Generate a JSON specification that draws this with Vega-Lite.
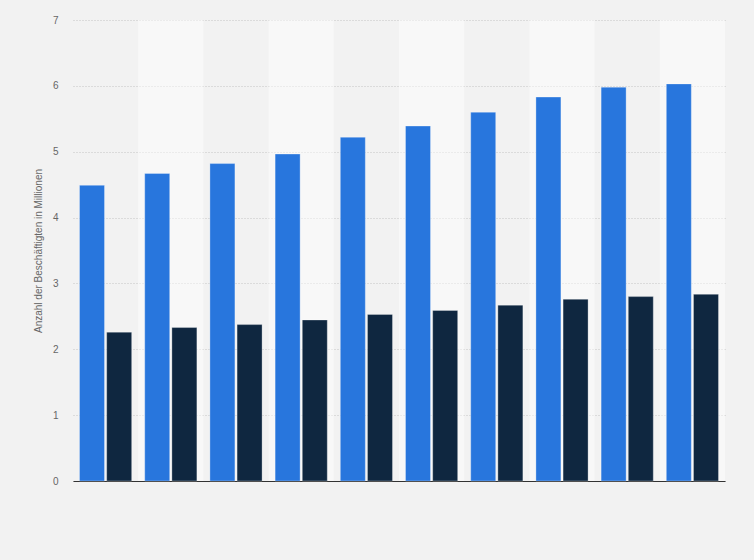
{
  "$schema": "https://vega.github.io/schema/vega-lite/v6.json",
  "width": 652,
  "height": 461,
  "autosize": {"type": "none"},
  "padding": {"left": 73, "top": 20, "right": 29, "bottom": 79},
  "background": "#f2f2f2",
  "config": {
    "view": {"stroke": null},
    "font": "Liberation Sans"
  },
  "data": {
    "values": [
      {"Jahr": "2010", "Reihe": "Reihe 1", "Wert": 4.49},
      {"Jahr": "2011", "Reihe": "Reihe 1", "Wert": 4.67},
      {"Jahr": "2012", "Reihe": "Reihe 1", "Wert": 4.82},
      {"Jahr": "2013", "Reihe": "Reihe 1", "Wert": 4.965},
      {"Jahr": "2014", "Reihe": "Reihe 1", "Wert": 5.22},
      {"Jahr": "2015", "Reihe": "Reihe 1", "Wert": 5.39},
      {"Jahr": "2016", "Reihe": "Reihe 1", "Wert": 5.6},
      {"Jahr": "2017", "Reihe": "Reihe 1", "Wert": 5.83},
      {"Jahr": "2018", "Reihe": "Reihe 1", "Wert": 5.98},
      {"Jahr": "2019", "Reihe": "Reihe 1", "Wert": 6.03},
      {"Jahr": "2010", "Reihe": "Reihe 2", "Wert": 2.26},
      {"Jahr": "2011", "Reihe": "Reihe 2", "Wert": 2.33},
      {"Jahr": "2012", "Reihe": "Reihe 2", "Wert": 2.375},
      {"Jahr": "2013", "Reihe": "Reihe 2", "Wert": 2.445},
      {"Jahr": "2014", "Reihe": "Reihe 2", "Wert": 2.53},
      {"Jahr": "2015", "Reihe": "Reihe 2", "Wert": 2.59},
      {"Jahr": "2016", "Reihe": "Reihe 2", "Wert": 2.67},
      {"Jahr": "2017", "Reihe": "Reihe 2", "Wert": 2.76},
      {"Jahr": "2018", "Reihe": "Reihe 2", "Wert": 2.8},
      {"Jahr": "2019", "Reihe": "Reihe 2", "Wert": 2.835}
    ]
  },
  "layer": [
    {
      "transform": [
        {"filter": "datum.Reihe === 'Reihe 1'"},
        {"window": [{"op": "row_number", "as": "idx"}], "sort": [{"field": "Jahr"}]}
      ],
      "mark": {"type": "rect", "fill": "#ffffff"},
      "encoding": {
        "x": {"field": "Jahr", "type": "ordinal", "scale": {"paddingInner": 0, "paddingOuter": 0}, "axis": null},
        "opacity": {"condition": {"test": "datum.idx % 2 === 0", "value": 0.45}, "value": 0}
      }
    },
    {
      "mark": {"type": "bar", "stroke": "#ffffff", "strokeOpacity": 0.3, "strokeWidth": 1},
      "encoding": {
        "x": {
          "field": "Jahr", "type": "ordinal",
          "scale": {"paddingInner": 0.2, "paddingOuter": 0.1},
          "axis": {"labels": false, "ticks": false, "title": null, "domain": true, "domainColor": "#333333", "domainWidth": 1, "grid": false}
        },
        "xOffset": {"field": "Reihe", "type": "nominal", "scale": {"paddingInner": 0.08, "paddingOuter": 0}},
        "y": {
          "field": "Wert", "type": "quantitative",
          "scale": {"domain": [0, 7], "nice": false},
          "axis": {
            "values": [0, 1, 2, 3, 4, 5, 6, 7],
            "title": "Anzahl der Beschäftigten in Millionen",
            "titleColor": "#666666",
            "titleFontSize": 10,
            "titleFontWeight": "normal",
            "titlePadding": 9,
            "labelColor": "#666666",
            "labelFontSize": 10,
            "labelPadding": 15,
            "domain": false,
            "ticks": false,
            "grid": true,
            "gridColor": "#c4c4c4",
            "gridDash": [1, 2],
            "gridWidth": 1
          }
        },
        "color": {
          "field": "Reihe", "type": "nominal",
          "scale": {"domain": ["Reihe 1", "Reihe 2"], "range": ["#2876dd", "#0f2740"]},
          "legend": null
        }
      }
    }
  ],
  "resolve": {"scale": {"x": "independent"}}
}
